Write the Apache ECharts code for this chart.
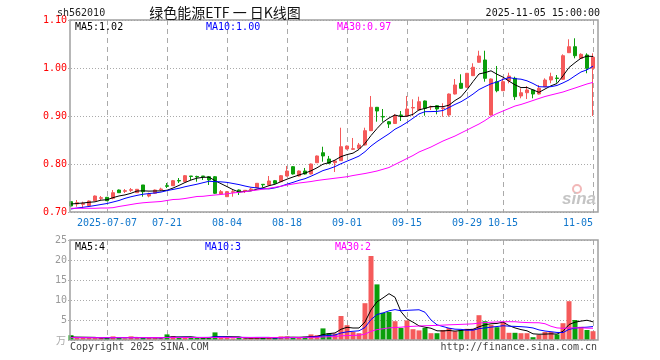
<!DOCTYPE html>
<html><head><meta charset="utf-8">
<script src="https://cdn.jsdelivr.net/npm/echarts@6/dist/echarts.min.js"></script>
<style>html,body{margin:0;padding:0;background:#fff}#c{width:660px;height:360px}</style>
</head><body><div id="c"></div>
<script>
const dates = ['2025-06-27','2025-06-30','2025-07-01','2025-07-02','2025-07-03','2025-07-04',
'2025-07-07','2025-07-08','2025-07-09','2025-07-10','2025-07-11',
'2025-07-14','2025-07-15','2025-07-16','2025-07-17','2025-07-18',
'2025-07-21','2025-07-22','2025-07-23','2025-07-24','2025-07-25',
'2025-07-28','2025-07-29','2025-07-30','2025-07-31','2025-08-01',
'2025-08-04','2025-08-05','2025-08-06','2025-08-07','2025-08-08',
'2025-08-11','2025-08-12','2025-08-13','2025-08-14','2025-08-15',
'2025-08-18','2025-08-19','2025-08-20','2025-08-21','2025-08-22',
'2025-08-25','2025-08-26','2025-08-27','2025-08-28','2025-08-29',
'2025-09-01','2025-09-02','2025-09-03','2025-09-04','2025-09-05',
'2025-09-08','2025-09-09','2025-09-10','2025-09-11','2025-09-12',
'2025-09-15','2025-09-16','2025-09-17','2025-09-18','2025-09-19',
'2025-09-22','2025-09-23','2025-09-24','2025-09-25','2025-09-26',
'2025-09-29','2025-09-30','2025-10-09','2025-10-10',
'2025-10-13','2025-10-14','2025-10-15','2025-10-16','2025-10-17',
'2025-10-20','2025-10-21','2025-10-22','2025-10-23','2025-10-24',
'2025-10-27','2025-10-28','2025-10-29','2025-10-30','2025-10-31',
'2025-11-03','2025-11-04','2025-11-05'];
const tickDates = ['2025-07-07','2025-07-21','2025-08-04','2025-08-18','2025-09-01','2025-09-15','2025-09-29','2025-10-15','2025-11-05'];

const opens = [0.7215,0.7167,0.716,0.7131,0.7235,0.7285,0.7306,0.7285,0.7458,0.7431,
0.7452,0.7402,0.7563,0.7333,0.739,0.7465,0.7548,0.7548,0.7656,0.7631,
0.775,0.774,0.775,0.7735,0.7735,0.7375,0.7319,0.741,0.7458,0.7438,
0.7465,0.7506,0.7577,0.7563,0.7652,0.7631,0.775,0.7944,0.775,0.7854,
0.7792,0.8027,0.8235,0.8104,0.8027,0.8069,0.8313,0.8306,0.8327,0.8396,
0.8694,0.9181,0.899,0.8881,0.8844,0.9021,0.90,0.9167,0.9125,0.9313,
0.9188,0.9215,0.9156,0.9021,0.9458,0.9681,0.9598,0.984,1.0119,1.0167,
0.9021,0.9715,0.9527,0.9735,0.9785,0.9417,0.9485,0.9542,0.9458,0.961,
0.975,0.9792,0.9765,1.0319,1.0444,1.0202,1.0271,0.9994];
const closes = [0.7125,0.7194,0.7181,0.7229,0.7333,0.7298,0.7235,0.7402,0.7402,0.7444,
0.7465,0.7473,0.7423,0.7369,0.7458,0.7479,0.7535,0.7652,0.7646,0.7756,
0.774,0.7729,0.774,0.7667,0.739,0.7423,0.7423,0.7423,0.7423,0.7452,
0.7479,0.7598,0.7567,0.7646,0.7598,0.7756,0.7854,0.7792,0.7854,0.7792,
0.80,0.8167,0.8167,0.8015,0.8063,0.836,0.8375,0.8319,0.8396,0.8694,
0.9181,0.9104,0.8979,0.8833,0.901,0.901,0.9146,0.9177,0.9298,0.916,
0.9198,0.9146,0.9167,0.9458,0.9646,0.9577,0.989,1.0015,1.025,0.9785,
0.9771,0.9527,0.9715,0.9833,0.9402,0.9485,0.9542,0.9458,0.9577,0.975,
0.9819,0.9781,1.0256,1.0444,1.0256,1.0285,0.9994,1.0223];
const lows = [0.7104,0.711,0.7077,0.7125,0.7229,0.725,0.7229,0.7265,0.7396,0.7396,
0.7417,0.7396,0.7319,0.7306,0.7375,0.7438,0.75,0.7542,0.7604,0.7625,
0.7667,0.7631,0.7667,0.7563,0.7375,0.7354,0.7313,0.7319,0.7354,0.7396,
0.7438,0.75,0.7515,0.7552,0.7583,0.7625,0.774,0.7781,0.774,0.7781,
0.7781,0.8021,0.8048,0.80,0.7833,0.8063,0.8302,0.8292,0.8313,0.8385,
0.8688,0.8881,0.8881,0.875,0.8833,0.8896,0.899,0.90,0.9115,0.9006,
0.9125,0.9035,0.8985,0.8985,0.9448,0.9569,0.959,0.9833,1.011,0.9715,
0.901,0.9494,0.9521,0.9681,0.9333,0.9369,0.9354,0.9369,0.9448,0.9604,
0.9681,0.9694,0.9756,1.0313,1.0202,1.0194,0.989,0.90];
const highs = [0.7229,0.725,0.7215,0.724,0.7344,0.7333,0.7313,0.7458,0.7469,0.7479,
0.75,0.7479,0.7563,0.7402,0.7469,0.7506,0.7604,0.7667,0.7708,0.7771,
0.775,0.7756,0.775,0.775,0.775,0.7458,0.7438,0.7458,0.7469,0.7458,
0.75,0.7604,0.7577,0.775,0.7667,0.7771,0.7958,0.7958,0.7865,0.7917,
0.801,0.8177,0.836,0.8167,0.8083,0.8756,0.8385,0.8542,0.8438,0.8756,
0.9417,0.9188,0.9146,0.8896,0.9042,0.9104,0.9417,0.9348,0.9402,0.9323,
0.9215,0.9229,0.9265,0.9469,0.9771,0.9869,0.9896,1.0098,1.036,1.036,
0.9781,1.0042,0.9785,0.9902,0.9819,0.9577,0.9625,0.9552,0.9646,0.9785,
0.9902,0.9854,1.0285,1.0598,1.0619,1.0306,1.0306,1.0306];

const ma5 = [0.7167,0.7177,0.7188,0.7202,
0.7212,0.7247,0.7255,0.7299,0.7334,0.7356,0.739,0.7437,0.7441,0.7435,
0.7438,0.744,0.7453,0.7499,0.7554,0.7614,0.7666,0.7705,0.7722,0.7726,
0.7653,0.759,0.7529,0.7465,0.7416,0.7429,0.744,0.7475,0.7504,0.7548,
0.7578,0.7633,0.7684,0.7729,0.7771,0.781,0.7858,0.7921,0.7996,0.8028,
0.8082,0.8154,0.8196,0.8226,0.8303,0.8429,0.8593,0.8739,0.8871,0.8958,
0.9021,0.8987,0.8996,0.9035,0.9128,0.9158,0.9196,0.9196,0.9194,0.9226,
0.9323,0.9399,0.9548,0.9717,0.9876,0.9903,0.9942,0.987,0.981,0.9726,
0.965,0.9592,0.9595,0.9544,0.9493,0.9562,0.9629,0.9677,0.9837,1.001,
1.0111,1.0204,1.0247,1.024];
const ma10 = [0.7063,0.7083,0.7098,0.7115,0.7135,0.7156,0.7177,0.7208,0.724,
0.7284,0.7318,0.7346,0.737,0.7384,0.7397,0.7415,0.7445,0.747,0.7494,
0.7526,0.7553,0.7579,0.761,0.764,0.7633,0.7628,0.7617,0.7594,0.7571,
0.7541,0.7515,0.7502,0.7485,0.7482,0.7503,0.7537,0.758,0.7617,0.766,
0.7694,0.7746,0.7803,0.7863,0.79,0.7946,0.8006,0.8059,0.8111,0.8165,
0.8256,0.8374,0.8467,0.8549,0.863,0.8725,0.879,0.8867,0.8953,0.9043,
0.909,0.9092,0.9096,0.9115,0.9177,0.9241,0.9297,0.9372,0.9456,0.9551,
0.9613,0.9671,0.9709,0.9763,0.9801,0.9777,0.9767,0.9733,0.9677,0.961,
0.9606,0.9611,0.9636,0.969,0.9751,0.9837,0.9917,0.9962,1.0039];
const ma30 = [0.7077,0.7077,0.7077,0.7077,0.7077,0.7083,0.7083,0.709,0.7115,0.7135,
0.7156,0.7177,0.7192,0.7202,0.721,0.7219,0.724,0.726,0.7265,0.7281,
0.7302,0.7323,0.7327,0.7342,0.7354,0.7365,0.7379,0.7396,0.741,0.7423,
0.7442,0.7458,0.7475,0.7494,0.7515,0.7535,0.7563,0.7583,0.7604,0.7619,
0.7635,0.7656,0.7673,0.7688,0.7704,0.7719,0.7735,0.776,0.7781,0.7802,
0.7827,0.7854,0.789,0.7927,0.799,0.8052,0.8115,0.8177,0.825,0.8302,
0.8354,0.8417,0.8479,0.8531,0.8583,0.8646,0.8708,0.8771,0.8833,0.8906,
0.899,0.9052,0.9104,0.9156,0.9208,0.924,0.9281,0.9323,0.9365,0.9406,
0.9438,0.9469,0.95,0.9542,0.9583,0.9625,0.9667,0.97];

const volumes = [1.2,0.5,0.5,0.5,0.6,0.5,0.5,0.9,0.5,0.4,
0.9,0.5,0.6,0.5,0.5,0.4,1.4,1.0,0.5,0.6,
0.5,0.5,0.5,0.6,1.9,0.5,0.6,0.4,0.5,0.4,
0.5,0.6,0.5,0.6,0.5,0.9,0.9,0.6,0.5,0.8,
1.4,1.2,2.9,1.7,1.6,6.0,3.7,2.0,1.7,9.2,
21,13.9,6.8,7.0,4.7,3.0,4.9,2.7,2.4,3.0,
1.7,1.7,2.5,3.0,2.2,2.5,2.8,2.8,6.2,4.7,
3.8,3.2,4.5,1.8,1.8,1.7,1.7,0.7,1.3,2.0,
2.0,1.4,4.2,9.7,5.0,3.3,2.5,2.2];
const volMa5 = [0.75,0.72,0.70,0.68,
0.66,0.52,0.52,0.6,0.6,0.56,0.64,0.64,0.58,0.58,
0.6,0.5,0.68,0.76,0.76,0.78,0.8,0.62,0.52,0.54,
0.8,0.8,0.82,0.8,0.78,0.48,0.48,0.48,0.5,0.52,
0.54,0.62,0.68,0.7,0.68,0.74,0.84,0.9,1.36,1.6,
1.76,2.68,3.18,3.0,3.0,4.52,7.52,9.56,10.52,11.58,
10.68,7.08,5.28,4.46,3.54,3.2,2.94,2.3,2.26,2.38,
2.22,2.38,2.6,2.66,3.3,3.8,4.06,4.14,4.48,3.6,
3.02,2.6,2.3,1.54,1.44,1.48,1.54,1.48,2.18,3.86,
4.46,4.72,4.94,4.54];
const volMa10 = [0.62,0.62,0.61,0.6,0.6,0.6,0.6,0.6,0.6,
0.61,0.58,0.58,0.59,0.59,0.58,0.57,0.66,0.67,0.67,
0.69,0.65,0.65,0.64,0.65,0.79,0.8,0.72,0.66,0.66,
0.64,0.64,0.65,0.65,0.65,0.51,0.55,0.58,0.6,0.6,
0.64,0.73,0.79,1.03,1.14,1.25,1.76,2.04,2.18,2.3,
3.14,5.1,6.37,6.76,7.29,7.6,7.3,7.42,7.49,7.56,
6.94,5.01,3.79,3.36,2.96,2.71,2.66,2.45,2.46,2.84,
3.01,3.22,3.37,3.57,3.45,3.41,3.33,3.22,3.01,2.52,
2.25,2.07,1.89,1.86,2.65,2.97,3.13,3.21,3.36];
const volMa30 = [0.6,0.6,0.59,0.59,0.58,0.58,0.58,0.58,0.58,0.58,
0.59,0.59,0.6,0.6,0.6,0.6,0.61,0.61,0.62,0.62,
0.62,0.62,0.63,0.63,0.64,0.64,0.64,0.65,0.65,
0.65,0.62,0.63,0.63,0.63,0.63,0.64,0.65,0.64,0.64,
0.66,0.67,0.70,0.77,0.81,0.85,1.04,1.11,1.15,1.19,
1.47,2.16,2.6,2.81,3.03,3.12,3.2,3.35,3.42,3.49,
3.57,3.61,3.65,3.72,3.8,3.85,3.91,3.97,4.04,4.23,
4.36,4.44,4.51,4.56,4.57,4.57,4.43,4.36,4.32,4.31,
4.07,3.43,3.02,2.93,3.02,3.03,3.04,2.96,2.94];

const priceAxis = {min: 0.7, max: 1.1, step: 0.1};
const volAxis = {min: 0, max: 25, step: 5};

const UP = '#f55a5a', DOWN = '#0b9e0b';
const MONO = "'DejaVu Sans Mono', monospace";
const last = a => a[a.length - 1];

const chart = echarts.init(document.getElementById('c'), null, {renderer: 'canvas'});
const kData = dates.map((d, i) => [opens[i], closes[i], lows[i], highs[i]]);
const volData = volumes.map((v, i) => ({value: v, itemStyle: {color: closes[i] >= opens[i] ? UP : DOWN}}));
const lineS = (name, data, color, xi, yi) => ({name, type: 'line', data, xAxisIndex: xi, yAxisIndex: yi,
  showSymbol: false, symbol: 'none', smooth: false, lineStyle: {color, width: 1}, silent: true, animation: false, z: 5});
// dashed vertical guide lines at the labelled dates, placed through the category axis
const dateLines = (xi, yi) => ({
  type: 'custom', xAxisIndex: xi, yAxisIndex: yi, silent: true, z: 1, animation: false, clip: false,
  data: tickDates.map(d => [dates.indexOf(d)]),
  encode: {x: 0},
  renderItem: (params, api) => {
    const cs = params.coordSys;
    const x = Math.round(api.coord([api.value(0), 0])[0]) + 0.5;
    return {type: 'line', shape: {x1: x, y1: cs.y, x2: x, y2: cs.y + cs.height},
      style: {stroke: '#aaaaaa', lineWidth: 1, lineDash: [5, 4]}};
  }
});

const txt = (x, y, text, fill, opts = {}) => ({type: 'text', x, y, silent: true, z: 100,
  style: Object.assign({text, fill, font: '10px ' + MONO, textVerticalAlign: 'middle', textAlign: 'left'}, opts)});

chart.setOption({
  animation: false,
  backgroundColor: '#fff',
  grid: [
    {left: 68, top: 20, width: 528, height: 192},
    {left: 68, top: 240, width: 528, height: 100}
  ],
  xAxis: [
    {type: 'category', gridIndex: 0, data: dates, boundaryGap: true,
     axisLine: {show: false}, axisTick: {show: false}, splitLine: {show: false},
     axisLabel: {interval: (i, v) => tickDates.includes(v), formatter: v => v === tickDates[0] ? v : v.slice(5),
       color: '#1177cc', fontFamily: MONO, fontSize: 10, margin: 6, alignMaxLabel: 'right'}},
    {type: 'category', gridIndex: 1, data: dates, boundaryGap: true,
     axisLine: {show: false}, axisTick: {show: false}, axisLabel: {show: false}, splitLine: {show: false}}
  ],
  yAxis: [
    {type: 'value', gridIndex: 0, min: priceAxis.min, max: priceAxis.max, interval: priceAxis.step,
     axisLine: {show: false}, axisTick: {show: false},
     splitLine: {show: true, lineStyle: {color: '#aaa', type: [1, 2], width: 1}},
     axisLabel: {color: '#ff0000', fontFamily: MONO, fontSize: 10, margin: 1, formatter: v => v.toFixed(2)}},
    {type: 'value', gridIndex: 1, min: volAxis.min, max: volAxis.max, interval: volAxis.step,
     axisLine: {show: false}, axisTick: {show: false},
     splitLine: {show: true, lineStyle: {color: '#aaa', type: [1, 2], width: 1}},
     axisLabel: {color: '#999', fontFamily: MONO, fontSize: 10, margin: 1, formatter: v => v === 0 ? '' : String(v)}}
  ],
  series: [
    dateLines(0, 0),
    dateLines(1, 1),
    {type: 'candlestick', data: kData, xAxisIndex: 0, yAxisIndex: 0, barWidth: 4, clip: false,
     itemStyle: {color: UP, color0: DOWN, borderColor: UP, borderColor0: DOWN, borderWidth: 1},
     silent: true, z: 3},
    lineS('MA5', ma5, '#000000', 0, 0),
    lineS('MA10', ma10, '#0000ff', 0, 0),
    lineS('MA30', ma30, '#ff00ff', 0, 0),
    {type: 'bar', data: volData, xAxisIndex: 1, yAxisIndex: 1, barWidth: 5, silent: true, z: 3},
    lineS('VMA5', volMa5, '#000000', 1, 1),
    lineS('VMA10', volMa10, '#0000ff', 1, 1),
    lineS('VMA30', volMa30, '#ff00ff', 1, 1)
  ],
  graphic: [
    {type: 'rect', silent: true, z: 90, shape: {x: 70, y: 20, width: 528, height: 192}, style: {fill: 'none', stroke: '#a0a0a0', lineWidth: 1.5}},
    {type: 'rect', silent: true, z: 90, shape: {x: 70, y: 240, width: 528, height: 100}, style: {fill: 'none', stroke: '#a0a0a0', lineWidth: 1.5}},
    txt(57, 13, 'sh562010', '#222'),
    txt(225, 13, '绿色能源ETF 一 日K线图', '#111', {font: "14px 'Noto Sans CJK SC'", textAlign: 'center'}),
    txt(600, 13, '2025-11-05 15:00:00', '#111', {textAlign: 'right'}),
    txt(75, 27, 'MA5:' + last(ma5).toFixed(2), '#000'),
    txt(206, 27, 'MA10:' + last(ma10).toFixed(2), '#0000ff'),
    txt(337, 27, 'MA30:' + last(ma30).toFixed(2), '#ff00ff'),
    txt(75, 247, 'MA5:' + Math.floor(last(volMa5)), '#000'),
    txt(205, 247, 'MA10:' + Math.floor(last(volMa10)), '#0000ff'),
    txt(335, 247, 'MA30:' + Math.floor(last(volMa30)), '#ff00ff'),
    txt(66, 340, '万', '#aaa', {textAlign: 'right', font: "10px 'Noto Sans CJK SC'"}),
    txt(70, 347, 'Copyright 2025 SINA.COM', '#444'),
    txt(597, 347, 'http://finance.sina.com.cn', '#444', {textAlign: 'right'}),
    {type: 'circle', silent: true, z: 95, shape: {cx: 577, cy: 189, r: 4}, style: {fill: 'none', stroke: '#f2b8b8', lineWidth: 2}},
    txt(596, 199, 'sina', '#c4c4c4', {textAlign: 'right', font: "italic bold 17px 'Liberation Sans'"})
  ]
});
</script>
</body></html>
